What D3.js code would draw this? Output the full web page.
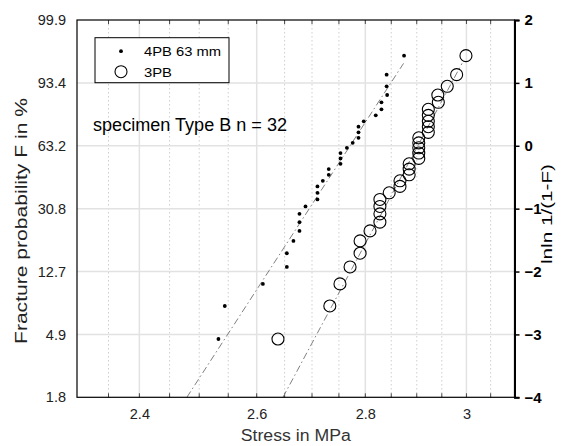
<!DOCTYPE html>
<html>
<head>
<meta charset="utf-8">
<script src="https://cdn.jsdelivr.net/npm/d3@7"></script>
<style>
	body { margin: 0; background: #fff; }
	svg { display: block; font-family: Arial, "Liberation Sans", sans-serif; }
</style>
</head>
<body>
<div id="app"></div>
<script>
// shared Weibull ranks, lnln 1/(1-F) (rank 1 .. 32)
const lnlnF = [-3.073, -2.548, -2.197, -1.927, -1.709, -1.513, -1.354, -1.215, -1.083, -0.965,
	-0.854, -0.748, -0.646, -0.557, -0.462, -0.371, -0.287, -0.201, -0.116, -0.032,
	0.046, 0.127, 0.213, 0.303, 0.389, 0.484, 0.580, 0.691, 0.807, 0.946, 1.131, 1.433];

// stress in MPa, 4PB 63 mm
const stress4PB = [2.533, 2.544, 2.611, 2.654, 2.654, 2.666, 2.677, 2.677, 2.677, 2.688,
	2.710, 2.710, 2.710, 2.720, 2.731, 2.731, 2.753, 2.753, 2.753, 2.765,
	2.776, 2.787, 2.787, 2.787, 2.797, 2.820, 2.831, 2.831, 2.842, 2.841, 2.841, 2.875];

// stress in MPa, 3PB
const stress3PB = [2.638, 2.733, 2.752, 2.771, 2.790, 2.790, 2.809, 2.828, 2.828, 2.828,
	2.828, 2.846, 2.867, 2.867, 2.885, 2.885, 2.885, 2.904, 2.904, 2.904,
	2.904, 2.904, 2.923, 2.923, 2.923, 2.923, 2.923, 2.943, 2.942, 2.961, 2.980, 2.999];

// fitted lines (end points)
const fit4PB = { stress: [2.479, 2.874], lnln: [-4, 1.31] };
const fit3PB = { stress: [2.647, 2.991], lnln: [-4, 1.31] };

const xMajor = [2.4, 2.6, 2.8, 3.0];
const xMajorLabels = ['2.4', '2.6', '2.8', '3'];
const xMinor = [2.35, 2.45, 2.5, 2.55, 2.65, 2.7, 2.75, 2.85, 2.9, 2.95, 3.05];
const yTicks = [-4, -3, -2, -1, 0, 1, 2];
const probLabels = ['1.8', '4.9', '12.7', '30.8', '63.2', '93.4', '99.9'];

let margin = { top: 20, right: 47.5, bottom: 48.7, left: 77 },
	outerWidth = 562,
	outerHeight = 446,
	width = outerWidth - margin.left - margin.right,
	height = outerHeight - margin.top - margin.bottom;

let svg = d3.select('#app').append('svg')
	.attr('width', outerWidth)
	.attr('height', outerHeight);

let graph = svg.append('g')
	.attr('transform', `translate(${ margin.left }, ${ margin.top })`);

let x = d3.scaleLog().domain([2.3, 3.1]).range([0, width]);
let y = d3.scaleLinear().domain([-4, 2]).range([height, 0]);

// grid
graph.append('g')
	.selectAll('line')
	.data(xMinor)
	.enter().append('line')
		.attr('x1', d => x(d)).attr('x2', d => x(d))
		.attr('y1', 0).attr('y2', height)
		.attr('stroke', '#cfcfcf')
		.attr('stroke-dasharray', '1.5,2.5');

graph.append('g')
	.selectAll('line')
	.data(xMajor)
	.enter().append('line')
		.attr('x1', d => x(d)).attr('x2', d => x(d))
		.attr('y1', 0).attr('y2', height)
		.attr('stroke', '#e2e2e2')
		.attr('stroke-width', 1.5);

graph.append('g')
	.selectAll('line')
	.data(yTicks.slice(1, -1))
	.enter().append('line')
		.attr('x1', 0).attr('x2', width)
		.attr('y1', d => y(d)).attr('y2', d => y(d))
		.attr('stroke', '#e2e2e2')
		.attr('stroke-width', 1.5);

// inward ticks top and bottom
let allX = xMajor.concat(xMinor);
graph.append('g')
	.attr('stroke', '#444')
	.selectAll('line')
	.data(allX)
	.enter().append('line')
		.attr('x1', d => x(d)).attr('x2', d => x(d))
		.attr('y1', height).attr('y2', height - 4);
graph.append('g')
	.attr('stroke', '#444')
	.selectAll('line')
	.data(allX)
	.enter().append('line')
		.attr('x1', d => x(d)).attr('x2', d => x(d))
		.attr('y1', 0).attr('y2', 4);

// fit lines
let line = d3.line()
	.x(d => x(d[0]))
	.y(d => y(d[1]));

graph.append('g')
	.attr('fill', 'none')
	.attr('stroke', '#808080')
	.attr('stroke-width', 1)
	.attr('stroke-dasharray', '7,3,1.5,3')
.selectAll('path')
.data([fit4PB, fit3PB])
.enter().append('path')
	.attr('d', d => line(d3.zip(d.stress, d.lnln)));

// points
graph.append('g')
	.attr('fill', '#000')
.selectAll('circle')
.data(d3.zip(stress4PB, lnlnF))
.enter().append('circle')
	.attr('cx', d => x(d[0]))
	.attr('cy', d => y(d[1]))
	.attr('r', 1.9);

graph.append('g')
	.attr('fill', 'none')
	.attr('stroke', '#000')
	.attr('stroke-width', 1.1)
.selectAll('circle')
.data(d3.zip(stress3PB, lnlnF))
.enter().append('circle')
	.attr('cx', d => x(d[0]))
	.attr('cy', d => y(d[1]))
	.attr('r', 6);

// frame
graph.append('rect')
	.attr('width', width)
	.attr('height', height)
	.attr('fill', 'none')
	.attr('stroke', '#000')
	.attr('stroke-width', 1.2);

// bottom axis labels
graph.append('g')
	.attr('transform', `translate(0, ${ height })`)
	.call(d3.axisBottom(x).tickValues(xMajor).tickSize(0).tickPadding(11)
		.tickFormat((d, i) => xMajorLabels[i]))
	.call(g => g.select('.domain').remove())
	.selectAll('text')
		.attr('font-size', 14.5)
		.attr('fill', '#222');

// left axis labels (probability)
graph.append('g')
	.call(d3.axisLeft(y).tickValues(yTicks).tickSize(0).tickPadding(11)
		.tickFormat((d, i) => probLabels[i]))
	.call(g => g.select('.domain').remove())
	.selectAll('text')
		.attr('font-size', 14.5)
		.attr('fill', '#222');

// right axis lnln
let right = graph.append('g')
	.attr('transform', `translate(${ width }, 0)`)
	.call(d3.axisRight(y).tickValues(yTicks).tickSize(5).tickPadding(5)
		.tickFormat(d3.format('d')));
right.select('.domain')
	.attr('stroke-width', 2);
right.selectAll('.tick line')
	.attr('stroke-width', 1.5);
right.selectAll('text')
	.attr('font-size', 15)
	.attr('font-weight', 'bold')
	.attr('fill', '#000');

// axis titles
svg.append('text')
	.attr('x', margin.left + width / 2)
	.attr('y', 441)
	.attr('text-anchor', 'middle')
	.attr('font-size', 16)
	.attr('textLength', 110)
	.attr('lengthAdjust', 'spacingAndGlyphs')
	.attr('fill', '#333')
	.text('Stress in MPa');

svg.append('text')
	.attr('transform', 'translate(27, 221) rotate(-90)')
	.attr('text-anchor', 'middle')
	.attr('font-size', 16)
	.attr('textLength', 246)
	.attr('lengthAdjust', 'spacingAndGlyphs')
	.attr('fill', '#222')
	.text('Fracture probability F in %');

svg.append('text')
	.attr('transform', 'translate(552, 214) rotate(-90)')
	.attr('text-anchor', 'middle')
	.attr('font-size', 15)
	.attr('textLength', 100)
	.attr('lengthAdjust', 'spacingAndGlyphs')
	.attr('fill', '#000')
	.text('lnln 1/(1-F)');

// annotation
svg.append('text')
	.attr('x', 93)
	.attr('y', 131)
	.attr('font-size', 17.5)
	.attr('textLength', 194)
	.attr('lengthAdjust', 'spacingAndGlyphs')
	.attr('fill', '#000')
	.text('specimen Type B n = 32');

// legend
let legend = svg.append('g')
	.attr('transform', 'translate(95, 37.7)');
legend.append('rect')
	.attr('width', 134)
	.attr('height', 45)
	.attr('fill', '#fff')
	.attr('stroke', '#000');
legend.append('circle')
	.attr('cx', 26).attr('cy', 13.5).attr('r', 1.9)
	.attr('fill', '#000');
legend.append('circle')
	.attr('cx', 26).attr('cy', 34).attr('r', 6)
	.attr('fill', 'none').attr('stroke', '#000').attr('stroke-width', 1.1);
legend.append('text')
	.attr('x', 49).attr('y', 18.5)
	.attr('font-size', 13.5)
	.attr('textLength', 77)
	.attr('lengthAdjust', 'spacingAndGlyphs')
	.text('4PB 63 mm');
legend.append('text')
	.attr('x', 49).attr('y', 39)
	.attr('font-size', 13.5)
	.attr('textLength', 28)
	.attr('lengthAdjust', 'spacingAndGlyphs')
	.text('3PB');
</script>
</body>
</html>
